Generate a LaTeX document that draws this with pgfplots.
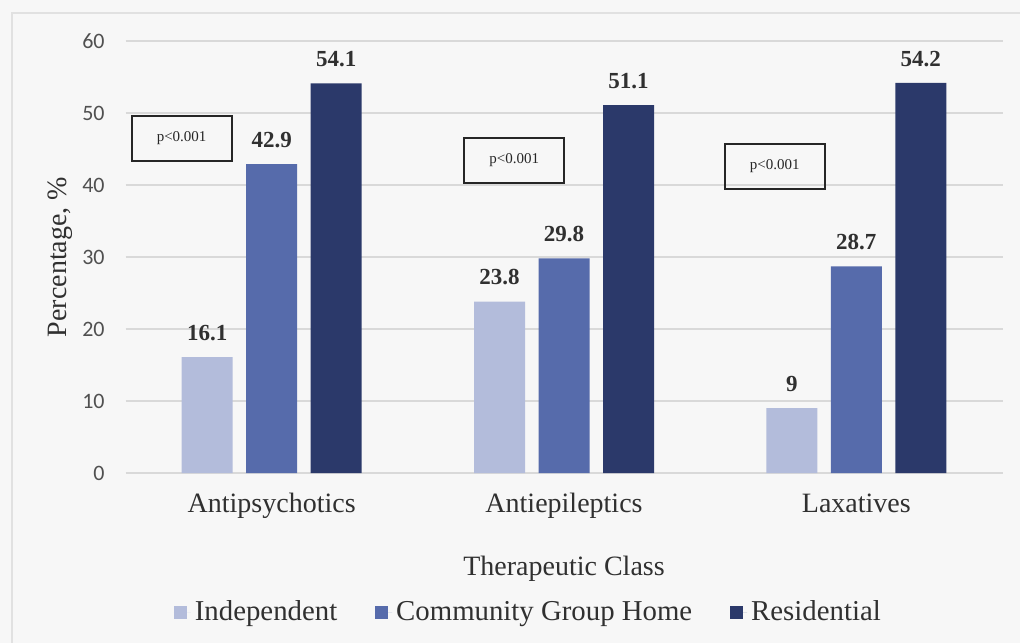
\documentclass[border=0pt]{standalone}
\usepackage{pgfplots}
\pgfplotsset{compat=1.18}
\usepackage{fontspec}
\setmainfont{Liberation Serif}
\newfontfamily\tickfont{Carlito}

\definecolor{indep}{RGB}{179,188,219}
\definecolor{cgh}{RGB}{86,107,171}
\definecolor{resid}{RGB}{43,57,106}
\definecolor{gridgray}{RGB}{217,217,217}
\definecolor{framegray}{RGB}{225,225,225}
\definecolor{txt}{RGB}{48,48,48}
\definecolor{ticktxt}{RGB}{80,80,80}
\definecolor{bg}{RGB}{247,247,247}

\begin{document}
\begin{tikzpicture}[x=1pt,y=1pt]
% page and chart frame
\path[use as bounding box, fill=bg] (-62.75,-85) rectangle (447.25,236.5);
\draw[framegray, line width=0.6pt] (-56.75,-85) -- (-56.75,230) -- (447.25,230);

\begin{axis}[
  at={(0,0)}, anchor=south west,
  scale only axis, width=438.5pt, height=216pt,
  xmin=-0.5, xmax=2.5, ymin=0, ymax=60,
  xtick={0,1,2},
  xticklabels={Antipsychotics,Antiepileptics,Laxatives},
  ytick={0,10,20,30,40,50,60},
  ybar=6.75pt, bar width=25.5pt,
  axis line style={draw=none},
  major tick length=0pt,
  ymajorgrids, grid style={gridgray, line width=0.6pt},
  /pgf/number format/assume math mode=true,
  yticklabel style={font=\tickfont\fontsize{11}{13}\selectfont, text=ticktxt,
    anchor=east, inner sep=0pt, xshift=-10.25pt},
  xticklabel style={font=\fontsize{14}{16}\selectfont, text=txt,
    anchor=base, inner sep=0pt, yshift=-19.5pt},
  xlabel={Therapeutic Class},
  ylabel={Percentage, \%},
  xlabel style={at={(axis description cs:0.5,-0.238)}, anchor=base,
    font=\fontsize{14}{16}\selectfont, text=txt, inner sep=0pt},
  ylabel style={at={(axis description cs:-0.0745,0.5)}, anchor=center,
    font=\fontsize{14}{16}\selectfont, text=txt},
  nodes near coords,
  every node near coord/.append style={font=\bfseries\fontsize{11.5}{13}\selectfont,
    text=txt, inner sep=0pt, yshift=8pt},
  legend columns=3,
  legend style={at={(axis description cs:0.4605,-0.3218)}, anchor=center,
    draw=none, fill=none, font=\fontsize{14.4}{16}\selectfont, text=txt,
    /tikz/every even column/.append style={column sep=17pt}},
  legend image code/.code={%
    \fill[#1] (0pt,-3.25pt) rectangle (6.5pt,3.25pt);
    \path (0pt,0pt) -- (8.5pt,0pt);},
]
\addplot[fill=indep, draw=none] coordinates {(0,16.1) (1,23.8) (2,9)};
\addplot[fill=cgh, draw=none] coordinates {(0,42.9) (1,29.8) (2,28.7)};
\addplot[fill=resid, draw=none] coordinates {(0,54.1) (1,51.1) (2,54.2)};
\legend{Independent, Community Group Home, Residential}

% significance boxes
\begin{scope}[every node/.style={draw=black!85, line width=0.9pt,
    minimum width=50pt, minimum height=22.5pt, inner sep=0pt,
    font=\fontsize{7.5}{9}\selectfont, text=black!85}]
\node at (axis cs:-0.308,46.46) {p<0.001};
\node at (axis cs:0.830,43.40) {p<0.001};
\node at (axis cs:1.721,42.57) {p<0.001};
\end{scope}
\end{axis}
\end{tikzpicture}
\end{document}
